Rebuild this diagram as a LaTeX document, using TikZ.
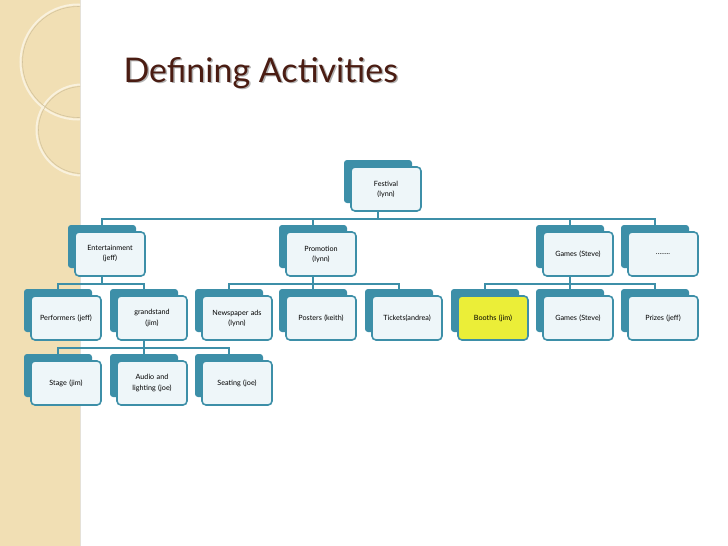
\documentclass[tikz,border=0pt]{standalone}
\usepackage{fontspec}
\setmainfont{Lato}
\begin{document}
\begin{tikzpicture}[x=1pt,y=-1pt,
  back/.style={fill=teal0,draw=none,rounded corners=3pt,minimum width=68pt,minimum height=43pt,inner sep=0pt},
  front/.style={fill=inner0,draw=teal0,line width=1.6pt,rounded corners=4pt,minimum width=70pt,minimum height=44pt,inner sep=1pt,align=center,font=\fontsize{7.2}{10}\selectfont,text width=68pt},
  conn/.style={draw=teal0,line width=1.5pt}]
\definecolor{teal0}{HTML}{3D8FA8}
\definecolor{inner0}{HTML}{EEF6F9}
\definecolor{beige}{HTML}{F1DFB4}
\definecolor{title0}{HTML}{4A1C12}
\useasboundingbox (0,0) rectangle (728,546);
\fill[white] (0,0) rectangle (728,546);
\fill[beige] (0,0) rectangle (80,546);
\draw[beige!70!black!30!white,line width=0.8pt] (80,0) -- (80,546);
\begin{scope}
\clip (0,0) rectangle (80,546);
\draw[white!55!beige,line width=2pt] (78,62) circle (57.5);
\draw[white!55!beige,line width=2pt] (82,130) circle (45.5);
\draw[beige!88!black,line width=0.6pt] (78,62) circle (55.5);
\draw[beige!88!black,line width=0.6pt] (82,130) circle (43.5);
\end{scope}
\node[anchor=west,text=gray!60,font=\fontsize{34}{36}\selectfont] (titleS) at (121.5,74.5) {Defining Activities};
\node[anchor=west,text=title0,font=\fontsize{34}{36}\selectfont] (title) at (120,73) {Defining Activities};
\newcommand{\boxat}[5][inner0]{%
  \node[back] (#2-b) at (#3+27,#4+14.5) {};
  \node[front,fill=#1] (#2) at (#3+35,#4+22) {#5};}
\boxat{fest}{351}{167}{Festival\\(lynn)}
\boxat{ent}{75}{232}{Entertainment\\(jeff)}
\boxat{pro}{286}{232}{Promotion\\(lynn)}
\boxat{gam}{543}{232}{Games (Steve)}
\boxat{dots}{628}{232}{……..}
\boxat{perf}{31}{296}{Performers (jeff)}
\boxat{gra}{117}{296}{grandstand\\(jim)}
\boxat{news}{202}{296}{Newspaper ads\\(lynn)}
\boxat{post}{286}{296}{Posters (keith)}
\boxat{tick}{372}{296}{Tickets(andrea)}
\boxat[yellow!90!green!80!white]{booth}{458}{296}{Booths (jim)}
\boxat{gam2}{543}{296}{Games (Steve)}
\boxat{priz}{628}{296}{Prizes (jeff)}
\boxat{stage}{31}{361}{Stage (jim)}
\boxat{audio}{117}{361}{Audio and\\lighting (joe)}
\boxat{seat}{202}{361}{Seating (joe)}
\foreach \p/\c in {fest/ent,fest/pro,fest/gam,fest/dots,ent/perf,ent/gra,pro/news,pro/post,pro/tick,gam/booth,gam/gam2,gam/priz,gra/stage,gra/audio,gra/seat}
  \draw[conn] (\p-b.center |- \p.south) -- ++(0,7) -| (\c-b.north);
\end{tikzpicture}
\end{document}
